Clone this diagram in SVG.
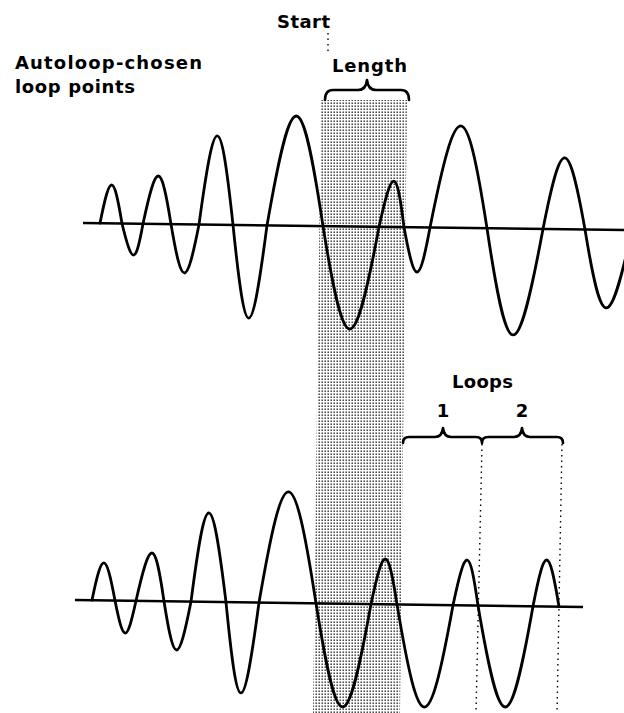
<svg xmlns="http://www.w3.org/2000/svg" width="624" height="713" viewBox="0 0 624 713">
  <defs>
    <pattern id="halftone" width="3" height="3" patternUnits="userSpaceOnUse">
      <rect width="3" height="3" fill="#ffffff"/>
      <rect x="0.5" y="0.5" width="1.4" height="1.4" fill="#222222"/>
    </pattern>
    <style>
      .wave { fill: none; stroke: #000; stroke-width: 2.8; stroke-linejoin: round; stroke-linecap: round; }
      .axis { fill: none; stroke: #000; stroke-width: 2.4; }
      .brace { fill: none; stroke: #000; stroke-width: 2.6; stroke-linejoin: round; stroke-linecap: round; }
      .dots { fill: none; stroke: #000; stroke-width: 1.4; stroke-dasharray: 1.5 4; }
      .lbl { font-family: "DejaVu Sans", "Liberation Sans", sans-serif; font-weight: bold; font-size: 18px; fill: #000; }
    </style>
  </defs>

  <g id="shaded-loop-length">
    <polygon points="321,100 407,100 400,713 313,713" fill="url(#halftone)"/>
  </g>

  <g id="top-waveform">
    <line class="axis" x1="83" y1="223" x2="624" y2="230"/>
    <path class="wave" d="M100,223.2 C110.2,172.2 113.5,172.2 122,223.5 C132.2,265.5 135.4,265.5 143,223.8 C156.6,160 160.8,160 171,224.1 C182,289.2 186.3,289.2 199,224.5 C215.1,106.4 220.3,106.4 233,224.9 C245.7,349 250.9,349 267,225.4 C292.4,79.4 301,79.4 323,226.1 C345,363.2 353.6,363.2 379,226.9 C392.6,165.7 396.4,165.7 404,227.2 C415,286.9 419,286.9 430,227.5 C457.1,92 465.8,92 487,228.3 C508.2,370.4 516.7,370.4 543,229 C561.7,134.2 568,134.2 585,229.6 C602,334 609.1,334 632,230"/>
  </g>

  <g id="bottom-waveform">
    <line class="axis" x1="75" y1="600" x2="583" y2="607"/>
    <path class="wave" d="M92,600.2 C102.2,550.5 105.7,550.5 115,600.6 C123.5,643.8 126.7,643.8 136,600.8 C150.4,537 154.7,537 164,601.2 C174.2,666.2 178.3,666.2 191,601.6 C206.3,483.4 211.6,483.4 226,602.1 C237.9,723.2 242.9,723.2 259,602.5 C284.4,455 293.1,455 316,603.3 C338,741.4 346.4,741.4 371,604.1 C383.7,543.9 387.7,543.9 397,604.4 C419.9,741.1 428.4,741.1 453,605.2 C465.7,544.9 469.5,544.9 478,605.6 C500.9,740.7 509.3,740.7 533,606.3 C544.9,544.5 548.8,544.5 559,606.7"/>
  </g>

  <g id="connectors">
    <line class="dots" x1="328" y1="33" x2="328" y2="51"/>
    <line class="dots" x1="482" y1="444" x2="476" y2="713"/>
    <line class="dots" x1="562" y1="444" x2="557" y2="713"/>
    <path class="brace" d="M325,100 Q325,90 333,90 L358,90 Q366,90 367,80 Q368,90 376,90 L401,90 Q409,90 409,100"/>
    <path class="brace" d="M403,443 Q403,437 409,437 L435,437 Q442,437 443,428 Q444,437 451,437 L476,437 Q482,437 482,443 Q482,437 488,437 L514,437 Q521,437 522,428 Q523,437 530,437 L557,437 Q563,437 563,443"/>
  </g>

  <g id="labels">
    <text class="lbl" x="277" y="28" textLength="53" lengthAdjust="spacing">Start</text>
    <text class="lbl" x="332" y="72" textLength="75" lengthAdjust="spacing">Length</text>
    <text class="lbl" x="15" y="69" textLength="187" lengthAdjust="spacing">Autoloop-chosen</text>
    <text class="lbl" x="15" y="93" textLength="120" lengthAdjust="spacing">loop points</text>
    <text class="lbl" x="452" y="388" textLength="61" lengthAdjust="spacing">Loops</text>
    <text class="lbl" x="443" y="417" text-anchor="middle">1</text>
    <text class="lbl" x="522" y="417" text-anchor="middle">2</text>
  </g>
</svg>
